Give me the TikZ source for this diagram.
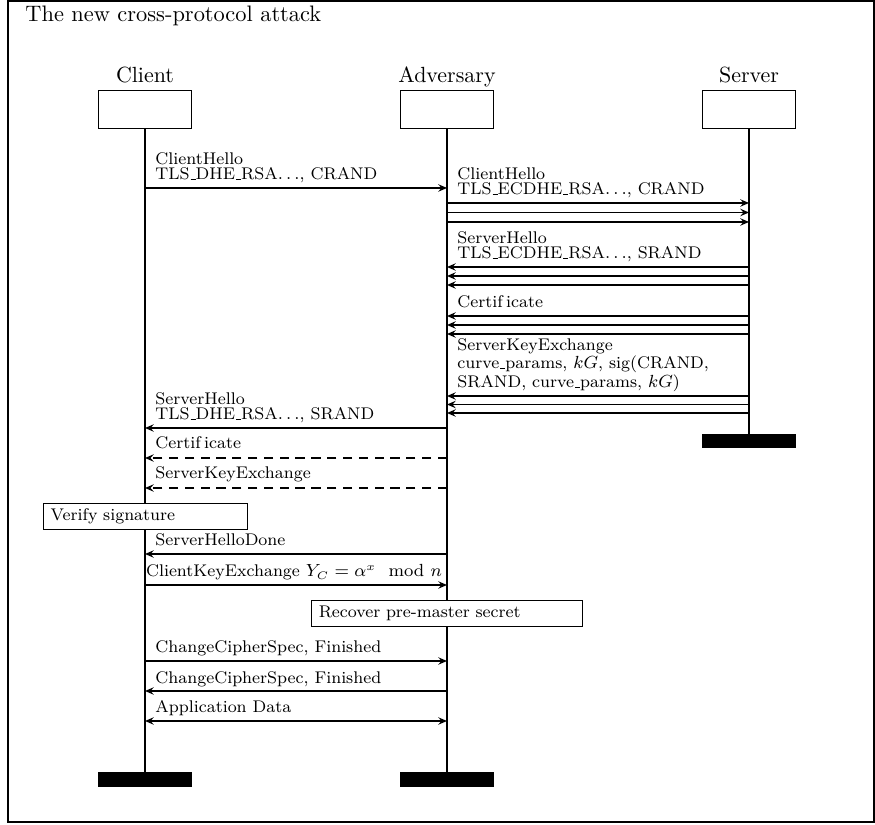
\documentclass[tikz,border=0pt]{standalone}
\usepackage{amsmath}
\usetikzlibrary{arrows.meta}

\newcommand{\us}{\leavevmode\kern.06em\vbox{\hrule width.3em}}

\tikzset{
  inst/.style={draw, minimum width=42pt, minimum height=17.3pt, inner sep=0pt},
  instend/.style={draw, fill=black, minimum width=42pt, minimum height=6pt, inner sep=0pt},
  lifeline/.style={line width=0.5pt},
  msg/.style={->, >={Stealth[length=4pt, width=3.4pt, inset=1.5pt]}, line width=0.6pt},
  dmsg/.style={msg, dash pattern=on 4.2pt off 3pt},
  lbl/.style={anchor=base west, inner sep=0pt, align=left, font=\fontsize{7.7}{7}\selectfont},
  action/.style={draw, fill=white, inner xsep=3.5pt, inner ysep=0pt, minimum height=11.8pt, align=left, font=\fontsize{7.7}{7}\selectfont},
}

\begin{document}
\begin{tikzpicture}[x=0.016cm, y=-0.016cm]
%
\useasboundingbox (0,0) rectangle (875,825);
%
\draw[line width=0.6pt] (8,1) rectangle (874,822);
\node[anchor=base west, inner sep=0pt, font=\fontsize{10.2}{12}\selectfont] (title) at (25,22) {The new cross-protocol attack};
%
\node[inst] (cl) at (145,109) {};
\node[inst] (ad) at (447,109) {};
\node[inst] (sv) at (749,109) {};
\node[anchor=base, inner sep=0pt] (clname) at (145,83) {Client};
\node[anchor=base, inner sep=0pt] (adname) at (447,83) {Adversary};
\node[anchor=base, inner sep=0pt] (svname) at (749,83) {Server};
\node[instend] (clend) at (145,779.5) {};
\node[instend] (adend) at (447,779.5) {};
\node[instend] (svend) at (749,441) {};
%
\draw[lifeline] (cl) -- (clend);
\draw[lifeline] (ad) -- (adend);
\draw[lifeline] (sv) -- (svend);
%
\draw[msg] (cl |- 0,188) -- (ad |- 0,188);
\node[lbl] (m1) at (155,180) {ClientHello\\TLS\us DHE\us RSA$\ldots$, CRAND};
%
\draw[msg] (ad |- 0,203) -- (sv |- 0,203);
\draw[msg] (ad |- 0,212.5) -- (sv |- 0,212.5);
\draw[msg] (ad |- 0,222) -- (sv |- 0,222);
\node[lbl] (m2) at (457,195) {ClientHello\\TLS\us ECDHE\us RSA$\ldots$, CRAND};
%
\draw[msg] (sv |- 0,267) -- (ad |- 0,267);
\draw[msg] (sv |- 0,276) -- (ad |- 0,276);
\draw[msg] (sv |- 0,285) -- (ad |- 0,285);
\node[lbl] (m3) at (457,259) {ServerHello\\TLS\us ECDHE\us RSA$\ldots$, SRAND};
%
\draw[msg] (sv |- 0,316) -- (ad |- 0,316);
\draw[msg] (sv |- 0,325) -- (ad |- 0,325);
\draw[msg] (sv |- 0,334) -- (ad |- 0,334);
\node[lbl] (m4) at (457,308) {Certif\kern1.5pt icate};
%
\draw[msg] (sv |- 0,396) -- (ad |- 0,396);
\draw[msg] (sv |- 0,404.5) -- (ad |- 0,404.5);
\draw[msg] (sv |- 0,413) -- (ad |- 0,413);
\node[lbl] (m5) at (457,388) {ServerKeyExchange\\curve\us params, $kG$, sig(CRAND,\\SRAND, curve\us params, $kG$)};
%
\draw[msg] (ad |- 0,428) -- (cl |- 0,428);
\node[lbl] (m6) at (155,420) {ServerHello\\TLS\us DHE\us RSA$\ldots$, SRAND};
%
\draw[dmsg] (ad |- 0,458) -- (cl |- 0,458);
\node[lbl] (m7) at (155,449) {Certif\kern1.5pt icate};
%
\draw[dmsg] (ad |- 0,488) -- (cl |- 0,488);
\node[lbl] (m8) at (155,479) {ServerKeyExchange};
%
\node[action, text width=85.9pt] (verify) at (145,516) {Verify signature};
%
\draw[msg] (ad |- 0,554) -- (cl |- 0,554);
\node[lbl] (m9) at (155,546) {ServerHelloDone};
%
\draw[msg] (cl |- 0,585) -- (ad |- 0,585);
\node[lbl, anchor=base] (m10) at (294,577) {ClientKeyExchange $Y_C = \alpha^x \mod n$};
%
\node[action, text width=116.8pt] (recover) at (447,613) {Recover pre-master secret};
%
\draw[msg] (cl |- 0,661) -- (ad |- 0,661);
\node[lbl] (m11) at (155,653) {ChangeCipherSpec, Finished};
%
\draw[msg] (ad |- 0,691) -- (cl |- 0,691);
\node[lbl] (m12) at (155,683) {ChangeCipherSpec, Finished};
%
\draw[msg, <->] (cl |- 0,721) -- (ad |- 0,721);
\node[lbl] (m13) at (155,713) {Application Data};
%
\end{tikzpicture}
\end{document}
